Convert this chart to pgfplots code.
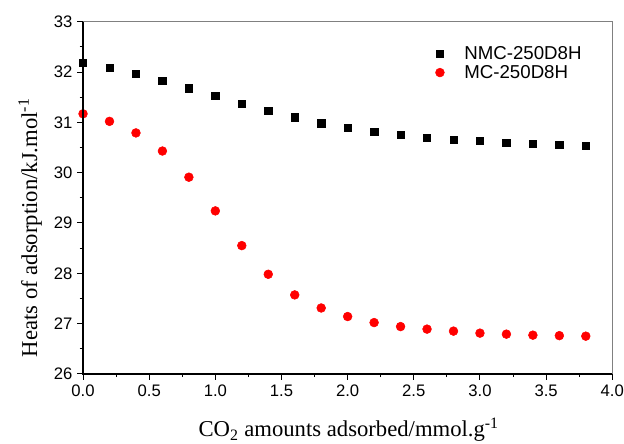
\documentclass[border=0pt]{standalone}
\usepackage{pgfplots}
\pgfplotsset{compat=1.18}
\usepackage{fontspec}
\setmainfont{Liberation Serif}
\newfontfamily\arialfont{Liberation Sans}

\begin{document}
\begin{tikzpicture}
\begin{axis}[
  name=ax,
  scale only axis,
  width=396.75pt, height=264pt,
  xmin=0, xmax=4, ymin=26, ymax=33,
  xtick={0,0.5,1,1.5,2,2.5,3,3.5,4},
  ytick={26,27,28,29,30,31,32,33},
  minor x tick num=1, minor y tick num=1,
  tick align=outside, tick pos=left,
  major tick length=4.5pt, minor tick length=2.5pt,
  every tick/.style={black, line width=0.8pt},
  axis line style={gray, line width=0.8pt},
  /pgf/number format/assume math mode=true,
  tick label style={font=\arialfont\fontsize{12.5}{14}\selectfont},
  xticklabel style={/pgf/number format/.cd, fixed, fixed zerofill, precision=1},
  yticklabel style={/pgf/number format/.cd, fixed, precision=0},
  label style={font=\fontsize{17}{20}\selectfont},
  xlabel={CO\textsubscript{2} amounts adsorbed/mmol.g\textsuperscript{-1}},
  ylabel={Heats of adsorption/kJ.mol\textsuperscript{-1}},
  xlabel style={at={(axis description cs:0.502,0)}, anchor=base, yshift=-47pt},
  ylabel style={at={(axis description cs:-0.1,0.415)}, anchor=center},
  legend style={draw=none, fill=none, at={(rel axis cs:0.658,0.947)}, anchor=north west,
    font=\arialfont\fontsize{14}{16}\selectfont, row sep=-1pt, column sep=13pt},
  legend cell align=left,
  after end axis/.code={
    \draw[black, line width=1.3pt] (rel axis cs:0,1) -- (rel axis cs:0,0) -- (rel axis cs:1,0);
  },
]
% NMC-250D8H
\addplot[only marks, mark=square*, mark size=2.75pt, black] coordinates {
  (0.0,32.18) (0.2,32.09) (0.4,31.97) (0.6,31.83) (0.8,31.68)
  (1.0,31.53) (1.2,31.37) (1.4,31.23) (1.6,31.10) (1.8,30.98)
  (2.0,30.89) (2.2,30.81) (2.4,30.75) (2.6,30.70) (2.8,30.66)
  (3.0,30.63) (3.2,30.60) (3.4,30.58) (3.6,30.56) (3.8,30.54)
};
\addlegendentry{NMC-250D8H}
% MC-250D8H
\addplot[only marks, mark=*, mark size=3.3pt, red, mark options={draw=red, fill=red}] coordinates {
  (0.0,31.17) (0.2,31.02) (0.4,30.79) (0.6,30.43) (0.8,29.91)
  (1.0,29.24) (1.2,28.55) (1.4,27.98) (1.6,27.57) (1.8,27.31)
  (2.0,27.14) (2.2,27.02) (2.4,26.94) (2.6,26.89) (2.8,26.85)
  (3.0,26.81) (3.2,26.79) (3.4,26.77) (3.6,26.76) (3.8,26.75)
};
\addlegendentry{MC-250D8H}
\end{axis}
\pgfresetboundingbox
\path ([shift={(-62.25pt,-52pt)}]ax.south west) rectangle ([shift={(8.8pt,16.3pt)}]ax.north east);
\end{tikzpicture}
\end{document}
